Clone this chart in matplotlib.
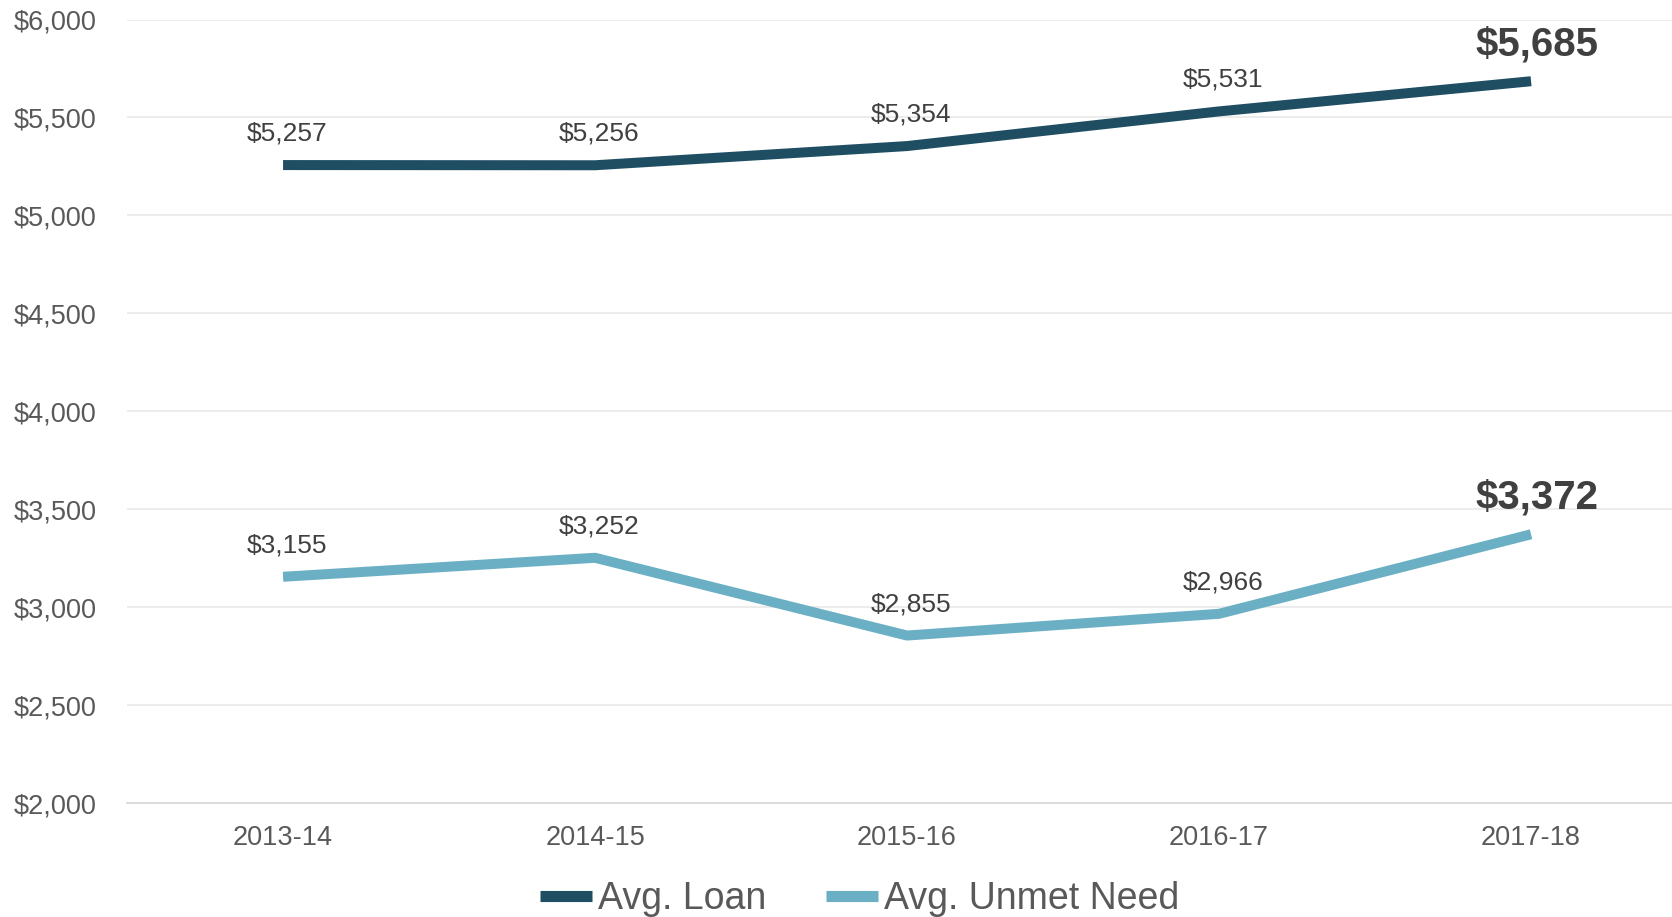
import matplotlib
matplotlib.use("Agg")
import matplotlib.pyplot as plt
from matplotlib.ticker import FuncFormatter

# data
years = ["2013-14", "2014-15", "2015-16", "2016-17", "2017-18"]
avg_loan = [5257, 5256, 5354, 5531, 5685]
avg_unmet = [3155, 3252, 2855, 2966, 3372]
yticks = [2000, 2500, 3000, 3500, 4000, 4500, 5000, 5500, 6000]

dark = "#1F4E63"
light = "#6AAFC4"
tick_col = "#595959"
lab_col = "#404040"

plt.rcParams["font.family"] = ["Liberation Sans", "DejaVu Sans"]

fig = plt.figure(figsize=(16.72, 9.17), dpi=100)
ax = fig.add_axes([0.076, 0.1243, 0.933, 0.8544])

x = list(range(len(years)))
ax.plot(x, avg_loan, color=dark, lw=7.2, solid_capstyle="butt", label="Avg. Loan", zorder=3)
ax.plot(x, avg_unmet, color=light, lw=7.2, solid_capstyle="butt", label="Avg. Unmet Need", zorder=3)

ax.set_xlim(-0.5, 4.5)
ax.set_ylim(2000, 6000)
ax.set_yticks(yticks)
ax.yaxis.set_major_formatter(FuncFormatter(lambda v, p: "${:,.0f}".format(v)))
ax.set_xticks(x)
ax.set_xticklabels(years)

ax.grid(axis="y", color="#EBEBEB", lw=1.3)
ax.set_axisbelow(True)
for s in ["top", "right", "left"]:
    ax.spines[s].set_visible(False)
ax.spines["bottom"].set_color("#D9D9D9")
ax.spines["bottom"].set_linewidth(1.3)
ax.tick_params(axis="both", length=0, labelsize=19.5, colors=tick_col)
ax.tick_params(axis="y", pad=22)
ax.tick_params(axis="x", pad=16)

# data labels, last point bold
for series in (avg_loan, avg_unmet):
    for i, v in enumerate(series):
        if i == len(series) - 1:
            ax.annotate("${:,}".format(v), (i, v), xytext=(4, 13), textcoords="offset points",
                        ha="center", va="bottom", fontsize=29, fontweight="bold", color=lab_col)
        else:
            ax.annotate("${:,}".format(v), (i, v), xytext=(3, 14), textcoords="offset points",
                        ha="center", va="bottom", fontsize=19, color=lab_col)

leg = fig.legend(loc="center", bbox_to_anchor=(0.514, 0.02), ncol=2, frameon=False,
                 handlelength=1.4, handletextpad=0.15, columnspacing=1.6,
                 prop={"size": 27})
for t in leg.get_texts():
    t.set_color(tick_col)
for h in leg.legend_handles:
    h.set_linewidth(8)

fig.savefig("out.png", dpi=100)
